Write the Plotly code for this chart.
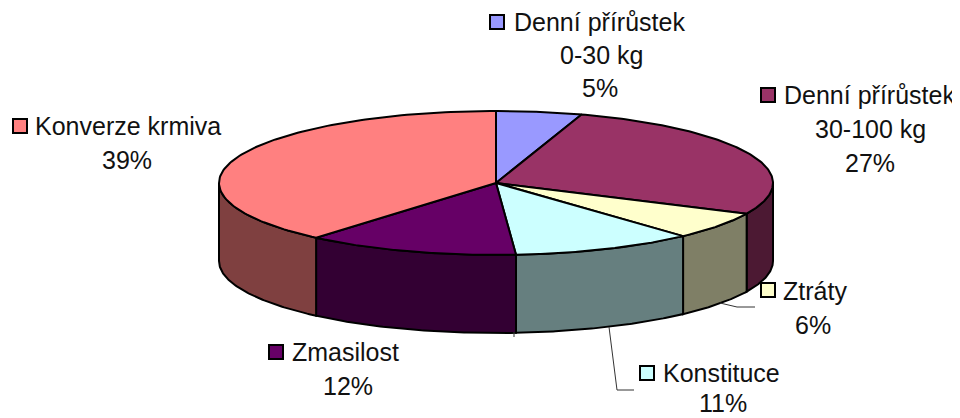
import numpy as np
import plotly.graph_objects as go

# Data
categories = ["Denní přírůstek 0-30 kg", "Denní přírůstek 30-100 kg", "Ztráty", "Konstituce", "Zmasilost", "Konverze krmiva"]
values = [5, 27, 6.2, 10.65, 12.4, 38.75]  # read from slice boundaries; labels show the rounded percentages
top_colors = ["#9999FF", "#993366", "#FFFFCC", "#CCFFFF", "#660066", "#FF8080"]
side_colors = ["#4C4C7F", "#4C1933", "#7F7F66", "#667F7F", "#330033", "#7F4040"]
label_lines = [
    ["Denní přírůstek", "0-30 kg", "5%"],
    ["Denní přírůstek", "30-100 kg", "27%"],
    ["Ztráty", "6%"],
    ["Konstituce", "11%"],
    ["Zmasilost", "12%"],
    ["Konverze krmiva", "39%"],
]

# Layout (pixels in a 960x418 frame)
CX, CY, RX, RY, DEPTH = 496, 183, 277, 72, 78
FONT = 25
PAGE_MARGIN = 8  # the browser's default body margin
key_pos = [(497, 22), (768, 95), (768, 290), (647, 373), (276, 352), (20, 126)]
first_left = [512, 782, 781, 661, 290, 33]
line_pos = [
    [22, (601, 55), (600, 88)],
    [95, (870, 129), (870, 163)],
    [291, (813, 325)],
    [373, (723, 403)],
    [352, (348, 386)],
    [126, (127, 160)],
]
leaders = [([720, 737, 755], [303, 307, 307]), ([609, 617, 634], [327, 390, 390]), ([514, 514], [332, 337])]


def pt(deg, dy=0):
    a = np.radians(deg)
    return CX + RX * np.sin(a), CY - RY * np.cos(a) + dy


fig = go.Figure()
edges = np.cumsum([0] + values) * 3.6

# Side walls: only the front half of the rim (90..270 deg) is visible
for i in range(len(values)):
    a0, a1 = max(edges[i], 90), min(edges[i + 1], 270)
    if a1 <= a0:
        continue
    t = np.linspace(a0, a1, 80)
    xt, yt = pt(t)
    xb, yb = pt(t[::-1], DEPTH)
    fig.add_trace(go.Scatter(
        x=np.r_[xt, xb, xt[0]], y=np.r_[yt, yb, yt[0]], mode="lines", fill="toself",
        fillcolor=side_colors[i], line=dict(color="black", width=2), hoverinfo="skip"))

# Top faces
for i in range(len(values)):
    t = np.linspace(edges[i], edges[i + 1], 120)
    xt, yt = pt(t)
    fig.add_trace(go.Scatter(
        x=np.r_[CX, xt, CX], y=np.r_[CY, yt, CY], mode="lines", fill="toself",
        fillcolor=top_colors[i], line=dict(color="black", width=2),
        name=categories[i], hoverinfo="name"))

# Leader lines
for lx, ly in leaders:
    fig.add_trace(go.Scatter(x=lx, y=ly, mode="lines", line=dict(color="#333333", width=1), hoverinfo="skip"))

# Legend keys
fig.add_trace(go.Scatter(
    x=[p[0] for p in key_pos], y=[p[1] for p in key_pos], mode="markers",
    marker=dict(symbol="square", size=14, color=top_colors, line=dict(color="black", width=2)),
    hoverinfo="skip"))

# Labels
for lines, left, pos in zip(label_lines, first_left, line_pos):
    fig.add_annotation(x=left, y=pos[0], text=lines[0], xanchor="left", yanchor="middle", showarrow=False)
    for txt, (px, py) in zip(lines[1:], pos[1:]):
        fig.add_annotation(x=px, y=py, text=txt, xanchor="center", yanchor="middle", showarrow=False)

fig.update_layout(
    width=960 - PAGE_MARGIN, height=418 - PAGE_MARGIN, margin=dict(l=0, r=0, t=0, b=0),
    paper_bgcolor="white", plot_bgcolor="white", showlegend=False,
    font=dict(family="Liberation Sans, Arial, sans-serif", size=FONT, color="#111111"),
    xaxis=dict(range=[PAGE_MARGIN, 960], visible=False, fixedrange=True),
    yaxis=dict(range=[418, PAGE_MARGIN], visible=False, fixedrange=True),
)
fig.write_html("out.html", config={"displayModeBar": False})
